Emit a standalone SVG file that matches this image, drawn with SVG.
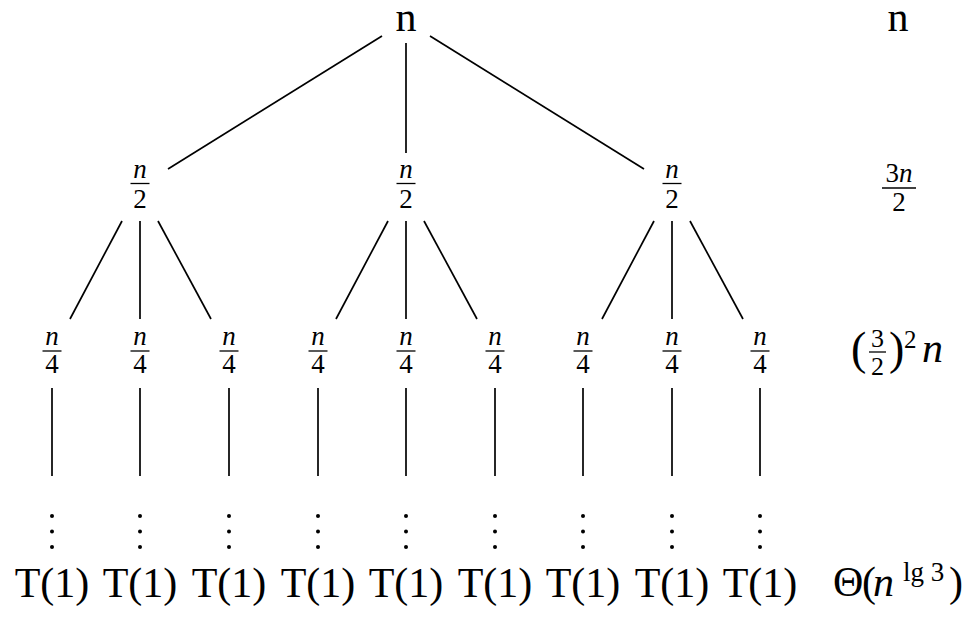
<svg xmlns="http://www.w3.org/2000/svg" width="977" height="620" viewBox="0 0 977 620">
<style>
.t{font-family:"Liberation Serif","Times New Roman",serif;fill:#000}
.big{font-size:42px}
.fr{font-size:27px}
.it{font-style:italic}
.m{text-anchor:middle}
.bar{stroke:#000;stroke-width:1.3}
.e{stroke:#000;stroke-width:1.7;fill:none}
.dot{fill:#000}
</style>
<rect width="977" height="620" fill="#fff"/>
<g id="connectors">
<line class="e" x1="382" y1="36" x2="168" y2="169"/>
<line class="e" x1="406" y1="43" x2="406" y2="153"/>
<line class="e" x1="430" y1="36" x2="644" y2="169"/>
<line class="e" x1="122" y1="221" x2="70" y2="319"/>
<line class="e" x1="140" y1="221" x2="140" y2="319"/>
<line class="e" x1="158" y1="221" x2="211" y2="319"/>
<line class="e" x1="388" y1="221" x2="336" y2="319"/>
<line class="e" x1="406" y1="221" x2="406" y2="319"/>
<line class="e" x1="424" y1="221" x2="477" y2="319"/>
<line class="e" x1="654" y1="221" x2="602" y2="319"/>
<line class="e" x1="672" y1="221" x2="672" y2="319"/>
<line class="e" x1="690" y1="221" x2="743" y2="319"/>
<line class="e" x1="52" y1="388" x2="52" y2="476"/>
<line class="e" x1="140" y1="388" x2="140" y2="476"/>
<line class="e" x1="229" y1="388" x2="229" y2="476"/>
<line class="e" x1="318" y1="388" x2="318" y2="476"/>
<line class="e" x1="406" y1="388" x2="406" y2="476"/>
<line class="e" x1="495" y1="388" x2="495" y2="476"/>
<line class="e" x1="583" y1="388" x2="583" y2="476"/>
<line class="e" x1="672" y1="388" x2="672" y2="476"/>
<line class="e" x1="760" y1="388" x2="760" y2="476"/>
</g>
<g id="root"><text class="t big m" x="406" y="31">n</text></g>
<g id="l2a"><text class="t fr it m" x="140" y="178">n</text><line class="bar" x1="130.5" y1="183.5" x2="149.5" y2="183.5"/><text class="t fr m" x="140" y="208">2</text></g>
<g id="l2b"><text class="t fr it m" x="406" y="178">n</text><line class="bar" x1="396.5" y1="183.5" x2="415.5" y2="183.5"/><text class="t fr m" x="406" y="208">2</text></g>
<g id="l2c"><text class="t fr it m" x="672" y="178">n</text><line class="bar" x1="662.5" y1="183.5" x2="681.5" y2="183.5"/><text class="t fr m" x="672" y="208">2</text></g>
<g id="l3a"><text class="t fr it m" x="52" y="345">n</text><line class="bar" x1="42.5" y1="351" x2="61.5" y2="351"/><text class="t fr m" x="52" y="373">4</text></g>
<g id="l3b"><text class="t fr it m" x="140" y="345">n</text><line class="bar" x1="130.5" y1="351" x2="149.5" y2="351"/><text class="t fr m" x="140" y="373">4</text></g>
<g id="l3c"><text class="t fr it m" x="229" y="345">n</text><line class="bar" x1="219.5" y1="351" x2="238.5" y2="351"/><text class="t fr m" x="229" y="373">4</text></g>
<g id="l3d"><text class="t fr it m" x="318" y="345">n</text><line class="bar" x1="308.5" y1="351" x2="327.5" y2="351"/><text class="t fr m" x="318" y="373">4</text></g>
<g id="l3e"><text class="t fr it m" x="406" y="345">n</text><line class="bar" x1="396.5" y1="351" x2="415.5" y2="351"/><text class="t fr m" x="406" y="373">4</text></g>
<g id="l3f"><text class="t fr it m" x="495" y="345">n</text><line class="bar" x1="485.5" y1="351" x2="504.5" y2="351"/><text class="t fr m" x="495" y="373">4</text></g>
<g id="l3g"><text class="t fr it m" x="583" y="345">n</text><line class="bar" x1="573.5" y1="351" x2="592.5" y2="351"/><text class="t fr m" x="583" y="373">4</text></g>
<g id="l3h"><text class="t fr it m" x="672" y="345">n</text><line class="bar" x1="662.5" y1="351" x2="681.5" y2="351"/><text class="t fr m" x="672" y="373">4</text></g>
<g id="l3i"><text class="t fr it m" x="760" y="345">n</text><line class="bar" x1="750.5" y1="351" x2="769.5" y2="351"/><text class="t fr m" x="760" y="373">4</text></g>
<g id="leaves">
<g id="leaf1"><circle class="dot" cx="52" cy="516" r="2"/><circle class="dot" cx="52" cy="531.5" r="2"/><circle class="dot" cx="52" cy="547" r="2"/><text class="t big m" x="52" y="597">T(1)</text></g>
<g id="leaf2"><circle class="dot" cx="140" cy="516" r="2"/><circle class="dot" cx="140" cy="531.5" r="2"/><circle class="dot" cx="140" cy="547" r="2"/><text class="t big m" x="140" y="597">T(1)</text></g>
<g id="leaf3"><circle class="dot" cx="229" cy="516" r="2"/><circle class="dot" cx="229" cy="531.5" r="2"/><circle class="dot" cx="229" cy="547" r="2"/><text class="t big m" x="229" y="597">T(1)</text></g>
<g id="leaf4"><circle class="dot" cx="318" cy="516" r="2"/><circle class="dot" cx="318" cy="531.5" r="2"/><circle class="dot" cx="318" cy="547" r="2"/><text class="t big m" x="318" y="597">T(1)</text></g>
<g id="leaf5"><circle class="dot" cx="406" cy="516" r="2"/><circle class="dot" cx="406" cy="531.5" r="2"/><circle class="dot" cx="406" cy="547" r="2"/><text class="t big m" x="406" y="597">T(1)</text></g>
<g id="leaf6"><circle class="dot" cx="495" cy="516" r="2"/><circle class="dot" cx="495" cy="531.5" r="2"/><circle class="dot" cx="495" cy="547" r="2"/><text class="t big m" x="495" y="597">T(1)</text></g>
<g id="leaf7"><circle class="dot" cx="583" cy="516" r="2"/><circle class="dot" cx="583" cy="531.5" r="2"/><circle class="dot" cx="583" cy="547" r="2"/><text class="t big m" x="583" y="597">T(1)</text></g>
<g id="leaf8"><circle class="dot" cx="672" cy="516" r="2"/><circle class="dot" cx="672" cy="531.5" r="2"/><circle class="dot" cx="672" cy="547" r="2"/><text class="t big m" x="672" y="597">T(1)</text></g>
<g id="leaf9"><circle class="dot" cx="760" cy="516" r="2"/><circle class="dot" cx="760" cy="531.5" r="2"/><circle class="dot" cx="760" cy="547" r="2"/><text class="t big m" x="760" y="597">T(1)</text></g>
</g>
<g id="costs">
<g id="cost0"><text class="t big m" x="898" y="31">n</text></g>
<g id="cost1"><text class="t fr m" x="899" y="182">3<tspan class="it">n</tspan></text><line class="bar" x1="882" y1="188" x2="916" y2="188"/><text class="t fr m" x="899" y="211">2</text></g>
<g id="cost2">
<text class="t" style="font-size:46px" x="851" y="364">(</text>
<text class="t m" style="font-size:26px" x="877.5" y="347">3</text>
<line class="bar" x1="869" y1="352" x2="886" y2="352"/>
<text class="t m" style="font-size:26px" x="877.5" y="375">2</text>
<text class="t" style="font-size:46px" x="889" y="364">)</text>
<text class="t" style="font-size:25px" x="904" y="348">2</text>
<text class="t big it" x="922" y="362">n</text>
</g>
<g id="cost3">
<text class="t big" x="833" y="596">Θ</text>
<text class="t big" x="862" y="596">(</text>
<text class="t big it" x="873" y="596">n</text>
<text class="t" style="font-size:27px" x="903" y="581">lg 3</text>
<text class="t big" x="949" y="596">)</text>
</g>
</g>
</svg>
